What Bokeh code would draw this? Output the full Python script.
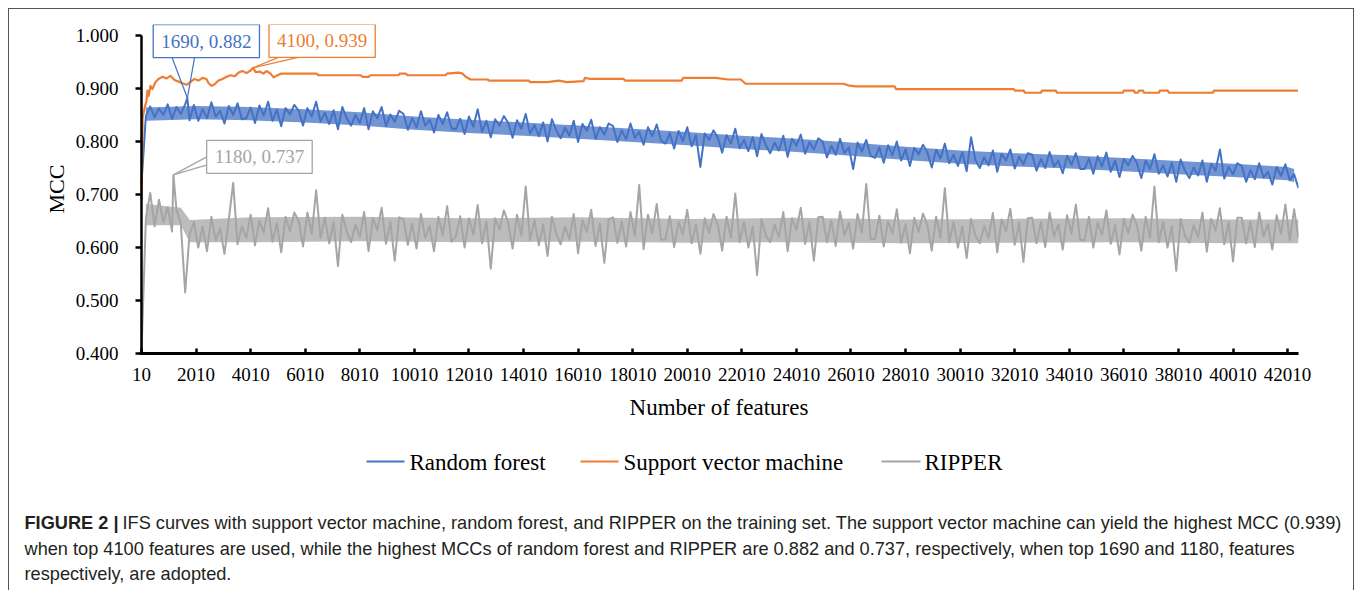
from bokeh.plotting import figure
from bokeh.models import Range1d, FixedTicker, PrintfTickFormatter, Label
from bokeh.core.properties import value
from bokeh.embed import file_html
from bokeh.resources import INLINE

# ---------------- data ----------------
# sampled feature counts (every 160 features) for the two noisy curves
feature_grid = list(range(10, 42411, 160))

rf_mcc = [
    0.720, 0.848, 0.866, 0.846, 0.862, 0.850, 0.870, 0.843, 0.865, 0.852, 0.870, 0.840,
    0.869, 0.839, 0.861, 0.844, 0.874, 0.847, 0.858, 0.834, 0.867, 0.850, 0.872, 0.842,
    0.844, 0.864, 0.835, 0.868, 0.849, 0.875, 0.839, 0.860, 0.829, 0.863, 0.851, 0.869,
    0.858, 0.830, 0.863, 0.847, 0.875, 0.838, 0.854, 0.833, 0.859, 0.823, 0.865, 0.844,
    0.830, 0.850, 0.835, 0.863, 0.823, 0.857, 0.844, 0.865, 0.829, 0.851, 0.837, 0.858,
    0.852, 0.822, 0.844, 0.827, 0.857, 0.830, 0.841, 0.817, 0.850, 0.833, 0.855, 0.825,
    0.823, 0.843, 0.814, 0.847, 0.828, 0.861, 0.818, 0.839, 0.808, 0.842, 0.830, 0.848,
    0.835, 0.807, 0.840, 0.824, 0.852, 0.815, 0.831, 0.810, 0.836, 0.800, 0.842, 0.821,
    0.806, 0.826, 0.811, 0.839, 0.799, 0.833, 0.820, 0.841, 0.805, 0.827, 0.813, 0.834,
    0.829, 0.799, 0.821, 0.804, 0.834, 0.807, 0.818, 0.794, 0.827, 0.810, 0.832, 0.802,
    0.796, 0.816, 0.787, 0.820, 0.801, 0.827, 0.791, 0.812, 0.752, 0.815, 0.803, 0.821,
    0.807, 0.779, 0.812, 0.796, 0.824, 0.787, 0.803, 0.782, 0.808, 0.772, 0.814, 0.793,
    0.778, 0.798, 0.783, 0.811, 0.771, 0.805, 0.792, 0.813, 0.777, 0.799, 0.785, 0.806,
    0.800, 0.770, 0.792, 0.775, 0.805, 0.778, 0.789, 0.748, 0.798, 0.781, 0.803, 0.773,
    0.769, 0.789, 0.760, 0.793, 0.774, 0.800, 0.764, 0.785, 0.754, 0.788, 0.776, 0.794,
    0.779, 0.751, 0.784, 0.768, 0.796, 0.759, 0.775, 0.754, 0.780, 0.744, 0.808, 0.765,
    0.750, 0.770, 0.755, 0.783, 0.743, 0.777, 0.764, 0.785, 0.749, 0.771, 0.757, 0.778,
    0.775, 0.745, 0.767, 0.750, 0.780, 0.753, 0.764, 0.740, 0.773, 0.756, 0.778, 0.748,
    0.748, 0.768, 0.739, 0.772, 0.753, 0.779, 0.743, 0.764, 0.733, 0.767, 0.755, 0.773,
    0.759, 0.731, 0.764, 0.748, 0.776, 0.739, 0.755, 0.734, 0.760, 0.724, 0.766, 0.745,
    0.731, 0.751, 0.736, 0.764, 0.724, 0.758, 0.745, 0.785, 0.730, 0.752, 0.738, 0.759,
    0.754, 0.724, 0.746, 0.729, 0.759, 0.732, 0.743, 0.719, 0.752, 0.735, 0.757, 0.727,
    0.738, 0.712,
]

ripper_mcc = [
    0.400, 0.655, 0.703, 0.640, 0.690, 0.648, 0.676, 0.630, 0.672, 0.645, 0.515, 0.625,
    0.648, 0.600, 0.640, 0.593, 0.658, 0.613, 0.636, 0.588, 0.653, 0.722, 0.606, 0.640,
    0.618, 0.662, 0.604, 0.651, 0.628, 0.674, 0.611, 0.646, 0.591, 0.658, 0.631, 0.666,
    0.650, 0.602, 0.666, 0.626, 0.708, 0.618, 0.656, 0.608, 0.648, 0.565, 0.662, 0.630,
    0.610, 0.643, 0.620, 0.667, 0.593, 0.655, 0.633, 0.675, 0.607, 0.649, 0.575, 0.657,
    0.653, 0.605, 0.645, 0.598, 0.663, 0.618, 0.641, 0.593, 0.658, 0.623, 0.678, 0.611,
    0.621, 0.659, 0.600, 0.655, 0.624, 0.680, 0.608, 0.649, 0.560, 0.655, 0.634, 0.670,
    0.646, 0.598, 0.662, 0.622, 0.715, 0.614, 0.652, 0.604, 0.644, 0.584, 0.658, 0.626,
    0.606, 0.639, 0.616, 0.663, 0.589, 0.651, 0.629, 0.671, 0.603, 0.645, 0.571, 0.653,
    0.657, 0.609, 0.649, 0.602, 0.667, 0.622, 0.718, 0.597, 0.662, 0.627, 0.682, 0.615,
    0.615, 0.659, 0.601, 0.648, 0.625, 0.671, 0.608, 0.643, 0.588, 0.655, 0.628, 0.663,
    0.642, 0.594, 0.658, 0.618, 0.702, 0.610, 0.648, 0.600, 0.640, 0.548, 0.654, 0.622,
    0.610, 0.643, 0.620, 0.667, 0.593, 0.655, 0.633, 0.675, 0.607, 0.649, 0.575, 0.657,
    0.658, 0.610, 0.650, 0.603, 0.668, 0.623, 0.646, 0.598, 0.663, 0.628, 0.720, 0.616,
    0.616, 0.660, 0.602, 0.649, 0.626, 0.672, 0.609, 0.644, 0.589, 0.656, 0.629, 0.664,
    0.642, 0.594, 0.658, 0.618, 0.712, 0.610, 0.648, 0.600, 0.640, 0.580, 0.654, 0.622,
    0.608, 0.641, 0.618, 0.665, 0.591, 0.653, 0.631, 0.673, 0.605, 0.647, 0.573, 0.655,
    0.656, 0.608, 0.648, 0.601, 0.666, 0.621, 0.644, 0.596, 0.661, 0.626, 0.681, 0.614,
    0.614, 0.658, 0.600, 0.647, 0.624, 0.670, 0.607, 0.642, 0.587, 0.654, 0.627, 0.662,
    0.642, 0.594, 0.658, 0.618, 0.715, 0.610, 0.648, 0.600, 0.640, 0.556, 0.654, 0.622,
    0.609, 0.642, 0.619, 0.666, 0.592, 0.654, 0.632, 0.674, 0.606, 0.648, 0.574, 0.656,
    0.656, 0.608, 0.648, 0.601, 0.666, 0.621, 0.644, 0.596, 0.661, 0.626, 0.681, 0.614,
    0.672, 0.618,
]

# dense core of the noisy curves (where the line is drawn many times over)
rf_band_x = [170, 2010, 4010, 6010, 8010, 10010, 12010, 14010, 16010, 18010, 20010, 22010,
             24010, 26010, 28010, 30010, 32010, 34010, 36010, 38010, 40010, 42010, 42250]
rf_band_lo = [0.839, 0.842, 0.840, 0.836, 0.830, 0.822, 0.816, 0.811, 0.805, 0.799, 0.793,
              0.786, 0.780, 0.773, 0.765, 0.758, 0.753, 0.749, 0.744, 0.738, 0.733, 0.727, 0.723]
rf_band_hi = [0.864, 0.867, 0.865, 0.861, 0.855, 0.847, 0.841, 0.836, 0.830, 0.824, 0.818,
              0.811, 0.805, 0.798, 0.790, 0.783, 0.778, 0.774, 0.769, 0.763, 0.758, 0.752, 0.748]

rip_band_x = [170, 1450, 1780, 4010, 8010, 12010, 16010, 20010, 24010, 28010, 32010,
              36010, 40010, 42410]
rip_band_lo = [0.642, 0.642, 0.610, 0.610, 0.612, 0.610, 0.611, 0.609, 0.610, 0.608, 0.609,
               0.610, 0.608, 0.608]
rip_band_hi = [0.682, 0.675, 0.652, 0.657, 0.658, 0.655, 0.657, 0.654, 0.656, 0.653, 0.654,
               0.655, 0.653, 0.653]

# support vector machine: breakpoints of its (almost step-like) curve
svm_x = [10, 50, 120, 190, 230, 270, 340, 410, 520, 630, 780, 930, 1070, 1220, 1370,
         1510, 1660, 1800, 1950, 2100, 2250, 2390, 2470, 2580, 2690, 2830, 2980, 3130,
         3270, 3420, 3570, 3710, 3860, 4010, 4190, 4340, 4480, 4590, 4740, 4850,
         4960, 5110, 6420, 6500, 8040, 8110, 8330, 8400, 9430, 9470, 9690, 9760, 11150,
         11200, 11630, 11780, 11890, 12070, 12690, 12750, 14200, 14250, 14890, 15300,
         15600, 16210, 16260, 16470, 17680, 17730, 19810, 19860, 21050, 21500, 21970,
         22150, 25740, 25900, 26180, 27610, 27660, 31980, 32020, 32340, 32380, 32970,
         33010, 33520, 33560, 35970, 36010, 36380, 36420, 36520, 36560, 36710, 36750,
         37290, 37330, 37620, 37660, 39270, 39310, 42390]
svm_mcc = [0.690, 0.845, 0.862, 0.876, 0.896, 0.886, 0.905, 0.899, 0.912, 0.918, 0.922,
           0.919, 0.924, 0.916, 0.913, 0.910, 0.907, 0.912, 0.918, 0.915, 0.920, 0.918,
           0.910, 0.905, 0.908, 0.915, 0.918, 0.922, 0.925, 0.923, 0.930, 0.933, 0.929,
           0.934, 0.931, 0.932, 0.928, 0.933, 0.928, 0.921, 0.924, 0.928, 0.928,
           0.925, 0.925, 0.922, 0.922, 0.925, 0.925, 0.928, 0.928, 0.925, 0.925, 0.928,
           0.930, 0.928, 0.922, 0.917, 0.917, 0.915, 0.915, 0.912, 0.912, 0.915, 0.912,
           0.914, 0.920, 0.918, 0.918, 0.915, 0.915, 0.920, 0.920, 0.917, 0.917, 0.909,
           0.909, 0.906, 0.904, 0.904, 0.899, 0.899, 0.896, 0.896, 0.892, 0.892, 0.896,
           0.896, 0.892, 0.892, 0.896, 0.896, 0.892, 0.892, 0.896, 0.896, 0.892, 0.892,
           0.896, 0.896, 0.892, 0.892, 0.896, 0.896]

# best points (annotated)
rf_best = (1690, 0.882)
svm_best = (4100, 0.939)
ripper_best = (1180, 0.737)

x_ticks = list(range(10, 42011, 2000))
y_ticks = [0.4, 0.5, 0.6, 0.7, 0.8, 0.9, 1.0]
y_axis_span = (0.4, 1.0)

series_names = ["Random forest", "Support vector machine", "RIPPER"]
series_colors = ["#4472C4", "#ED7D31", "#A5A5A5"]

caption_bold = "FIGURE 2 |"
caption_lines = [
    "IFS curves with support vector machine, random forest, and RIPPER on the training set. The support vector machine can yield the highest MCC (0.939)",
    "when top 4100 features are used, while the highest MCCs of random forest and RIPPER are 0.882 and 0.737, respectively, when top 1690 and 1180, features",
    "respectively, are adopted.",
]


def with_point(xs, ys, pt):
    pts = sorted(list(zip(xs, ys)) + [pt])
    return [a for a, _ in pts], [b for _, b in pts]


rf_x, rf_y = with_point(feature_grid, rf_mcc, rf_best)
rip_x, rip_y = with_point(feature_grid, ripper_mcc, ripper_best)
svm_xx, svm_yy = with_point(svm_x, svm_mcc, svm_best)

# ---------------- main figure ----------------
W = 1346
H_TOP, H_BOT = 420, 162
ML, MR, MT, MB = 130, 57, 15, 76
FW, FH = W - ML - MR, H_TOP - MT - MB
# x: first category sits 2px inside the frame; y: 53px per 0.1, headroom above 1.000
X1 = 42410
X0 = 10 - 2 * (X1 - 10) / (FW - 2)
Y0 = 0.4
Y1 = Y0 + FH * 0.1 / 53
xpp = (X1 - X0) / FW
ypp = (Y1 - Y0) / FH
BORDER = "1px solid #555555"

p = figure(width=W, height=H_TOP, x_range=Range1d(X0, X1), y_range=Range1d(Y0, Y1),
           output_backend="svg", toolbar_location=None,
           min_border_left=ML, min_border_right=MR, min_border_top=MT, min_border_bottom=MB)
p.outline_line_color = None
p.grid.visible = False
p.styles = {"margin-left": "8px", "margin-top": "8px",
            "border-left": BORDER, "border-top": BORDER, "border-right": BORDER}

p.varea(rf_band_x, rf_band_lo, rf_band_hi, fill_color=series_colors[0], fill_alpha=0.75)
p.line(rf_x, rf_y, line_color=series_colors[0], line_width=2, line_join="round")
p.line(svm_xx, svm_yy, line_color=series_colors[1], line_width=2.2, line_join="round")
p.varea(rip_band_x, rip_band_lo, rip_band_hi, fill_color=series_colors[2], fill_alpha=0.75)
p.line(rip_x, rip_y, line_color=series_colors[2], line_width=2, line_join="round")

# value axis line (0.400 .. 1.000 only)
p.segment(x0=[x_ticks[0]], y0=[y_axis_span[0]], x1=[x_ticks[0]], y1=[y_axis_span[1]],
          line_color="black", line_width=2.5)

SERIF = "Liberation Serif"
SANS = "Liberation Sans"

# axes
p.xaxis.ticker = FixedTicker(ticks=x_ticks)
p.xaxis.formatter = PrintfTickFormatter(format="%d")
p.xaxis.minor_tick_line_color = None
p.xaxis.major_tick_in = 5
p.xaxis.major_tick_out = 0
p.xaxis.major_tick_line_width = 2.5
p.xaxis.major_tick_line_color = "black"
p.xaxis.axis_line_width = 3
p.xaxis.axis_line_color = "black"
p.xaxis.major_label_text_font = SERIF
p.xaxis.major_label_text_font_size = "19px"
p.xaxis.major_label_text_color = "black"
p.xaxis.major_label_standoff = 14
p.xaxis.axis_label = "Number of features"
p.xaxis.axis_label_text_font = SERIF
p.xaxis.axis_label_text_font_size = "23px"
p.xaxis.axis_label_text_font_style = "normal"
p.xaxis.axis_label_text_color = "black"
p.xaxis.axis_label_standoff = 11

p.yaxis.ticker = FixedTicker(ticks=y_ticks)
p.yaxis.formatter = PrintfTickFormatter(format="%.3f")
p.yaxis.minor_tick_line_color = None
p.yaxis.major_tick_in = 2
p.yaxis.major_tick_out = 4
p.yaxis.major_tick_line_width = 2.5
p.yaxis.major_tick_line_color = "black"
p.yaxis.axis_line_color = None
p.yaxis.major_label_text_font = SERIF
p.yaxis.major_label_text_font_size = "19px"
p.yaxis.major_label_text_color = "black"
p.yaxis.major_label_standoff = 17
p.yaxis.axis_label = "MCC"
p.yaxis.axis_label_text_font = SERIF
p.yaxis.axis_label_text_font_size = "22px"
p.yaxis.axis_label_text_font_style = "normal"
p.yaxis.axis_label_text_color = "black"
p.yaxis.axis_label_standoff = 4

# callouts: (point, color, box offset px, two base offsets px)
callouts = [
    (rf_best, series_colors[0], (19, 57), [(-17, 45), (8, 45)]),
    (svm_best, series_colors[1], (69, 27), [(34, 14), (60, 14)]),
    (ripper_best, series_colors[2], (86, 18), [(37, 20), (37, 11)]),
]
for (bx, by), col, (ox, oy), bases in callouts:
    xs = [[bx + dx * xpp, bx] for dx, dy in bases]
    ys = [[by + dy * ypp, by] for dx, dy in bases]
    p.multi_line(xs, ys, line_color=col, line_width=1.2)
    p.add_layout(Label(x=bx, y=by, x_offset=ox, y_offset=oy,
                       text=f"{bx}, {by:.3f}", text_align="center", text_baseline="middle",
                       text_font=SERIF, text_font_size="19px", text_color=col,
                       background_fill_color="white", border_line_color=col,
                       border_line_width=1.3, padding=(8, 6)))

# ---------------- legend + caption panel (pixel coordinates, y from top) ----------------
q = figure(width=W, height=H_BOT, x_range=Range1d(0, W), y_range=Range1d(H_BOT, 0),
           output_backend="svg", toolbar_location=None, min_border=0,
           x_axis_type=None, y_axis_type=None)
q.outline_line_color = None
q.grid.visible = False
q.styles = {"margin-left": "8px", "border-left": BORDER, "border-right": BORDER}

LEG_Y = 33
leg_line_x0 = [357, 571, 872]
leg_line_x1 = [395, 609, 911]
leg_text_x = [400, 614, 915]
q.segment(x0=leg_line_x0, y0=[LEG_Y] * 3, x1=leg_line_x1, y1=[LEG_Y] * 3,
          line_color=series_colors, line_width=2.2)
q.text(x=leg_text_x, y=[LEG_Y + 1] * 3, text=series_names, text_font=value(SERIF),
       text_font_size="23px", text_color="black", text_baseline="middle")

CAP_X = 15
CAP_Y = [94, 120, 145]
q.text(x=[CAP_X], y=[CAP_Y[0]], text=[caption_bold], text_font=value(SANS),
       text_font_size="18.2px", text_font_style="bold", text_color="#231F20",
       text_baseline="middle")
q.text(x=[CAP_X + 98, CAP_X, CAP_X], y=CAP_Y, text=caption_lines, text_font=value(SANS),
       text_font_size="18.2px", text_color="#231F20", text_baseline="middle")

open("out.html", "w").write(file_html([p, q], INLINE))
